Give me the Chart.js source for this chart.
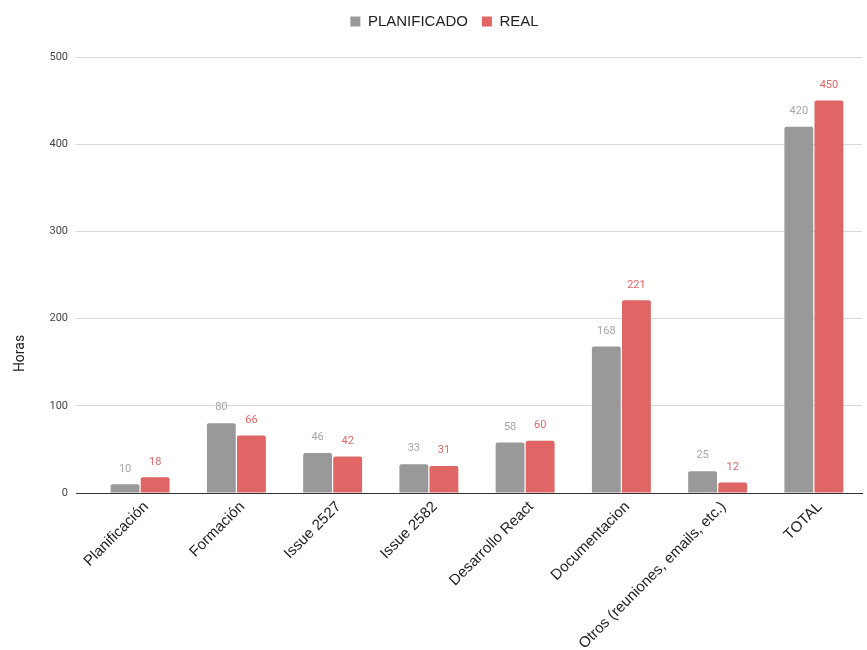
<!DOCTYPE html>
<html>
<head>
<meta charset="utf-8">
<script src="https://cdn.jsdelivr.net/npm/chart.js@4/dist/chart.umd.min.js"></script>
<style>
  html, body { margin: 0; padding: 0; background: #fff; }
  #wrap { width: 867px; height: 650px; }
</style>
</head>
<body>
<div id="wrap"><canvas id="horas"></canvas></div>
<script>
/* =================================================================
    Horas planificadas vs reales por tarea
================================================================= */

var categorias = [
    "Planificación",
    "Formación",
    "Issue 2527",
    "Issue 2582",
    "Desarrollo React",
    "Documentacion",
    "Otros (reuniones, emails, etc.)",
    "TOTAL"
];

var planificado = [10, 80, 46, 33, 58, 168, 25, 420];
var real = [18, 66, 42, 31, 60, 221, 12, 450];

var yTicks = [0, 100, 200, 300, 400, 500];

var colores = {
    planificado: "#999999",
    real: "#e06666",
    labelPlan: "#a6a6a6",
    labelReal: "#e06666"
};

// valores encima de cada barra
var valueLabels = {
    id: "valueLabels",
    afterDatasetsDraw: function (chart) {
        var ctx = chart.ctx;
        ctx.save();
        ctx.font = "11px Roboto";
        ctx.textAlign = "center";
        ctx.textBaseline = "bottom";
        chart.data.datasets.forEach(function (ds, i) {
            var meta = chart.getDatasetMeta(i);
            meta.data.forEach(function (bar, j) {
                ctx.fillStyle = ds.labelColor;
                ctx.fillText(ds.data[j], bar.x, bar.y - 10);
            });
        });
        ctx.restore();
    }
};

// titulo del eje Y, algo por debajo del centro
var yTitle = {
    id: "yTitle",
    afterDraw: function (chart) {
        var ctx = chart.ctx;
        var area = chart.chartArea;
        ctx.save();
        ctx.translate(20, area.top + (area.bottom - area.top) * 0.68);
        ctx.rotate(-Math.PI / 2);
        ctx.font = "14px Roboto";
        ctx.fillStyle = "#222";
        ctx.textAlign = "center";
        ctx.textBaseline = "middle";
        ctx.fillText("Horas", 0, 0);
        ctx.restore();
    }
};

// mas aire entre la leyenda y el grafico
var legendSpace = {
    id: "legendSpace",
    beforeInit: function (chart) {
        var fit = chart.legend.fit;
        chart.legend.fit = function () {
            fit.bind(chart.legend)();
            this.height += 18;
        };
    }
};

var ctx = document.getElementById("horas");

var myChart = new Chart(ctx, {
    type: "bar",
    data: {
        labels: categorias,
        datasets: [
            {
                label: "PLANIFICADO",
                data: planificado,
                backgroundColor: colores.planificado,
                labelColor: colores.labelPlan,
                borderRadius: 2,
                borderSkipped: "bottom"
            },
            {
                label: "REAL",
                data: real,
                backgroundColor: colores.real,
                labelColor: colores.labelReal,
                borderRadius: 2,
                borderSkipped: "bottom"
            }
        ]
    },
    options: {
        responsive: true,
        maintainAspectRatio: false,
        animation: false,
        layout: { padding: { left: 27, right: 5, top: 0, bottom: 0 } },
        datasets: {
            bar: { categoryPercentage: 0.625, barPercentage: 0.96 }
        },
        plugins: {
            legend: {
                position: "top",
                labels: {
                    usePointStyle: true,
                    pointStyle: "rect",
                    boxWidth: 10,
                    boxHeight: 10,
                    padding: 14,
                    color: "#222",
                    font: { family: "Liberation Sans", size: 15 }
                }
            },
            tooltip: { enabled: false }
        },
        scales: {
            x: {
                grid: { display: false },
                border: { color: "#333", width: 1 },
                afterFit: function (scale) { scale.height = 157; },
                ticks: {
                    autoSkip: false,
                    maxRotation: 45,
                    minRotation: 45,
                    padding: -3,
                    labelOffset: 6,
                    color: "#222",
                    font: { family: "Liberation Sans", size: 15 }
                }
            },
            y: {
                min: 0,
                max: 500,
                afterBuildTicks: function (axis) {
                    axis.ticks = yTicks.map(function (v) { return { value: v }; });
                },
                afterFit: function (scale) { scale.width = 65; },
                border: { display: false },
                grid: {
                    drawTicks: true,
                    tickLength: 16,
                    color: function (c) { return c.tick.value === 0 ? "#333" : "#d9d9d9"; }
                },
                ticks: {
                    padding: 8,
                    color: "#444",
                    font: { family: "Roboto", size: 11 }
                }
            }
        }
    },
    plugins: [valueLabels, yTitle, legendSpace]
});
</script>
</body>
</html>
